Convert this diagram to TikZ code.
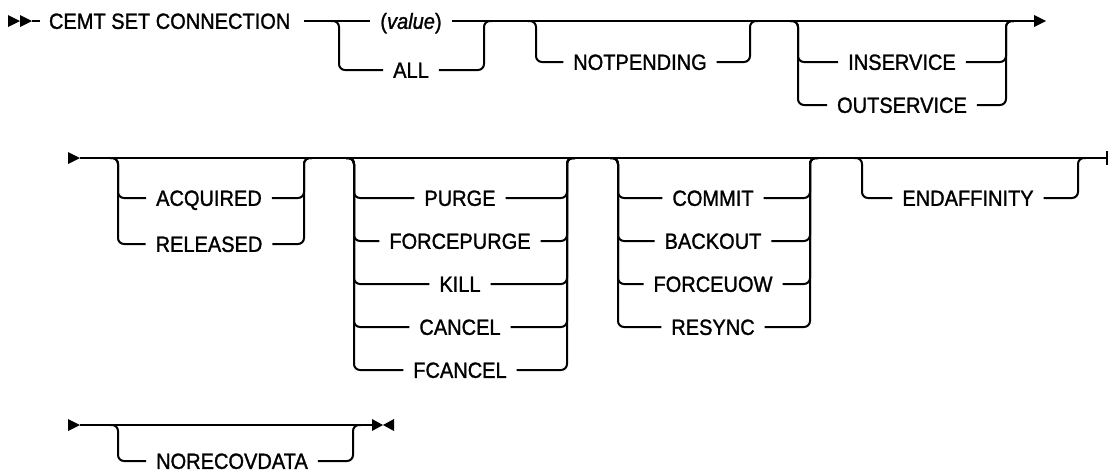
\documentclass[tikz,border=0pt]{standalone}
\usepackage{fontspec}
\setmainfont{Liberation Sans}[FakeStretch=0.91,FakeBold=1.3]
\begin{document}
\begin{tikzpicture}[x=1pt,y=-1pt,line width=2pt,
  kw/.style={inner xsep=9pt,inner ysep=0pt,text height=15.7pt,text depth=0pt,font=\fontsize{22}{26}\selectfont},
  br/.style={rounded corners=6pt},
  tip/.style={fill=black,draw=none}]
\useasboundingbox (0,0) rectangle (1109,472);

% ---------- row 1 ----------
\coordinate (m0) at (32,21);
\fill[tip] (8,15) -- (20,21) -- (8,27) -- cycle;
\fill[tip] (20,15) -- (32,21) -- (20,27) -- cycle;
\node[kw,inner xsep=0pt,anchor=west] (cemt) at (48,21) {CEMT SET CONNECTION};
\draw (m0) -- ([xshift=-8pt]cemt.west);

\coordinate (g1L) at (339,21);
\coordinate (g1R) at (484,21);
\coordinate (g2L) at (536,21);
\coordinate (g2R) at (750,21);
\coordinate (g3L) at (798,21);
\coordinate (g3R) at (1006,21);
\coordinate (r1end) at (1046,21);

\node[kw] (value) at (411,21) {(\textit{value})};
\node[kw] (all) at (411,70) {ALL};
\node[kw] (notpending) at (640,62) {NOTPENDING};
\node[kw] (inservice) at (902,62) {INSERVICE};
\node[kw] (outservice) at (902,105) {OUTSERVICE};

\draw ([xshift=13pt]cemt.east) -- (value.west);
\draw (value.east) -- ([xshift=-10pt]r1end);
\fill[tip] (r1end) -- ++(-12,-6) -- ++(0,12) -- cycle;

\draw[br] ([xshift=-8pt]g1L) -| (g1L |- all) -- (all.west);
\draw[br] (all.east) -| (g1R) -- ([xshift=8pt]g1R);

\draw[br] ([xshift=-8pt]g2L) -| (g2L |- notpending) -- (notpending.west);
\draw[br] (notpending.east) -| (g2R) -- ([xshift=8pt]g2R);

\foreach \n in {inservice,outservice}{
  \draw[br] ([xshift=-8pt]g3L) -| (g3L |- \n) -- (\n.west);
  \draw[br] (\n.east) -| (g3R) -- ([xshift=8pt]g3R);
}

% ---------- row 2 ----------
\coordinate (r2s) at (80,158);
\coordinate (r2e) at (1107,158);
\fill[tip] (r2s) -- ++(-12,-6) -- ++(0,12) -- cycle;
\draw (r2s) -- (r2e);
\draw ([yshift=-7pt]r2e) -- ([yshift=7pt]r2e);

\coordinate (gAL) at (118,158);
\coordinate (gAR) at (304,158);
\coordinate (gBL) at (354,158);
\coordinate (gBR) at (567,158);
\coordinate (gCL) at (618,158);
\coordinate (gCR) at (810,158);
\coordinate (gDL) at (862,158);
\coordinate (gDR) at (1078,158);

\node[kw] (acquired) at (209,198) {ACQUIRED};
\node[kw] (released) at (209,244) {RELEASED};

\node[kw] (purge) at (460,198) {PURGE};
\node[kw] (forcepurge) at (460,241) {FORCEPURGE};
\node[kw] (kill) at (460,284) {KILL};
\node[kw] (cancel) at (460,327) {CANCEL};
\node[kw] (fcancel) at (460,370) {FCANCEL};

\node[kw] (commit) at (713,198) {COMMIT};
\node[kw] (backout) at (713,241) {BACKOUT};
\node[kw] (forceuow) at (713,284) {FORCEUOW};
\node[kw] (resync) at (713,327) {RESYNC};

\node[kw] (endaffinity) at (968,198) {ENDAFFINITY};

\foreach \n in {acquired,released}{
  \draw[br] ([xshift=-8pt]gAL) -| (gAL |- \n) -- (\n.west);
  \draw[br] (\n.east) -| (gAR) -- ([xshift=8pt]gAR);
}
\foreach \n in {purge,forcepurge,kill,cancel,fcancel}{
  \draw[br] ([xshift=-8pt]gBL) -| (gBL |- \n) -- (\n.west);
  \draw[br] (\n.east) -| (gBR) -- ([xshift=8pt]gBR);
}
\foreach \n in {commit,backout,forceuow,resync}{
  \draw[br] ([xshift=-8pt]gCL) -| (gCL |- \n) -- (\n.west);
  \draw[br] (\n.east) -| (gCR) -- ([xshift=8pt]gCR);
}
\draw[br] ([xshift=-8pt]gDL) -| (gDL |- endaffinity) -- (endaffinity.west);
\draw[br] (endaffinity.east) -| (gDR) -- ([xshift=8pt]gDR);

% ---------- row 3 ----------
\coordinate (r3s) at (80,425);
\coordinate (r3e) at (372,425);
\coordinate (gEL) at (118,425);
\coordinate (gER) at (353,425);
\fill[tip] (r3s) -- ++(-12,-6) -- ++(0,12) -- cycle;
\draw (r3s) -- (r3e);
\fill[tip] (r3e) ++(0,-6) -- ++(11,6) -- ++(-11,6) -- cycle;
\fill[tip] (r3e) ++(22,-6) -- ++(-11,6) -- ++(11,6) -- cycle;

\node[kw] (norecovdata) at (232,461) {NORECOVDATA};
\draw[br] ([xshift=-8pt]gEL) -| (gEL |- norecovdata) -- (norecovdata.west);
\draw[br] (norecovdata.east) -| (gER) -- ([xshift=8pt]gER);
\end{tikzpicture}
\end{document}
